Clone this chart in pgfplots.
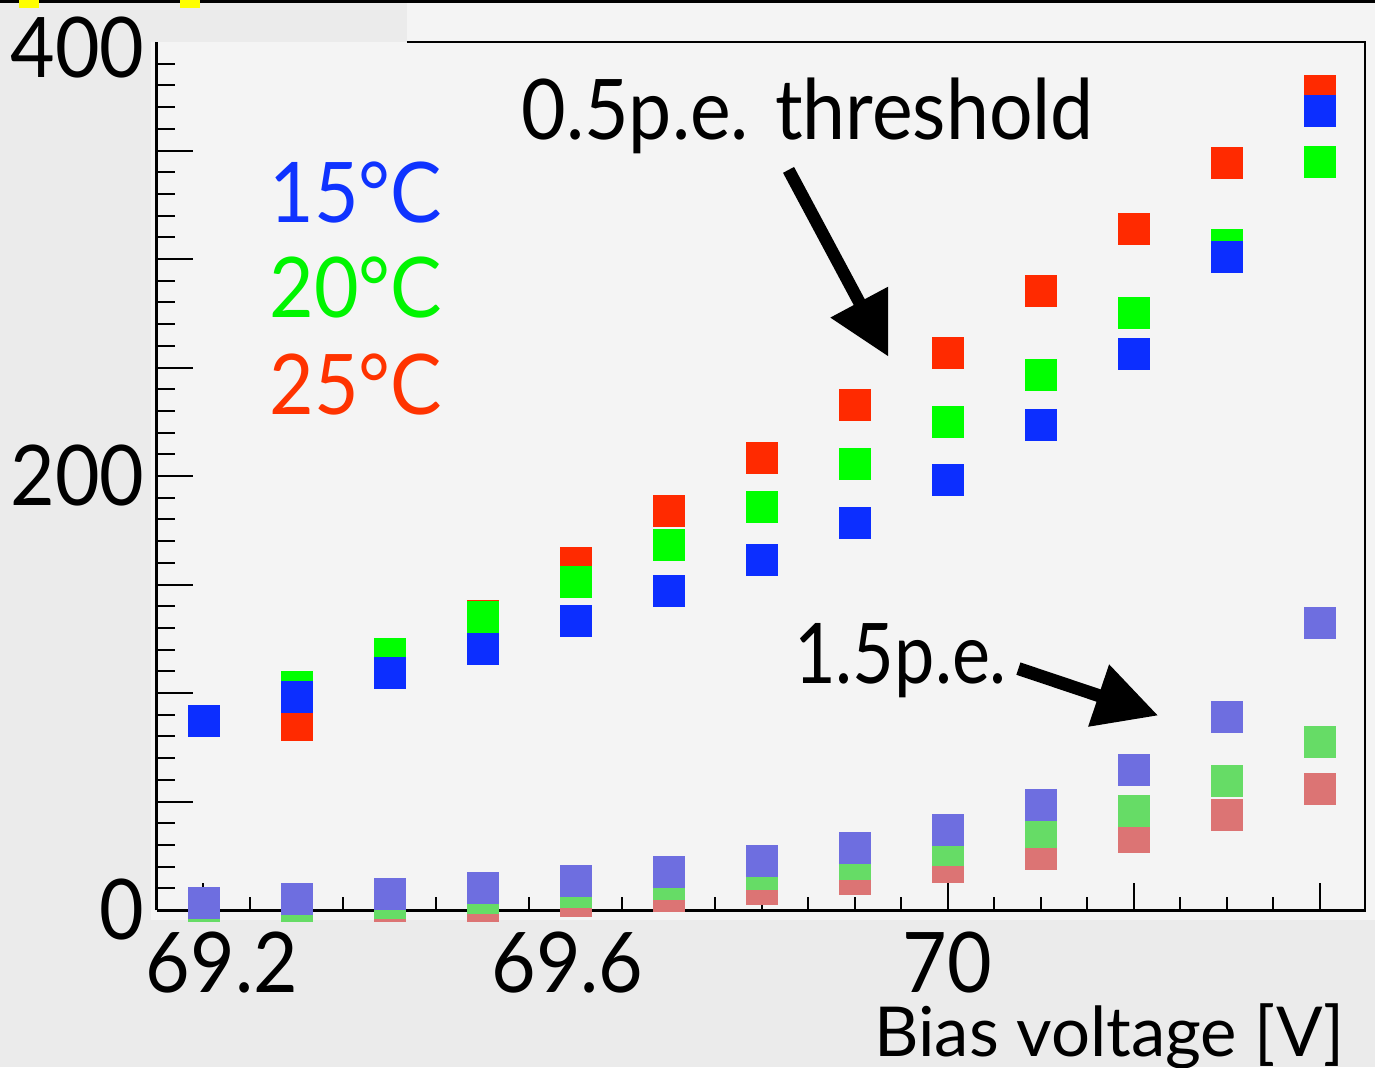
\documentclass[border=0pt]{standalone}
\usepackage{fontspec}
\setmainfont[FakeStretch=0.92]{Lato}
\newfontfamily\biasfont{Lato}
\newfontfamily\narrowf[FakeStretch=0.86]{Lato}
\usepackage{pgfplots}
\pgfplotsset{compat=1.18}
\usetikzlibrary{arrows.meta}
\definecolor{bgout}{HTML}{EBEBEB}
\definecolor{bgin}{HTML}{F4F4F4}
\definecolor{bA}{HTML}{0C2EFF}
\definecolor{gA}{HTML}{00FF00}
\definecolor{rA}{HTML}{FF2A00}
\definecolor{bB}{HTML}{6E6EE0}
\definecolor{gB}{HTML}{66DC66}
\definecolor{rB}{HTML}{DC7474}
\definecolor{txtB}{HTML}{0F33FF}
\definecolor{txtG}{HTML}{00F500}
\definecolor{txtR}{HTML}{FF3300}
\definecolor{yel}{HTML}{FFFF00}
\newcommand\bigf{\fontsize{23.8pt}{28pt}\selectfont}
\begin{document}
\begin{tikzpicture}
\begin{scope}[x=0.01cm,y=-0.01cm]
\fill[bgin] (0,0) rectangle (1376,1068);
\fill[bgout] (0,0) rectangle (151,1068);
\fill[bgout] (0,921) rectangle (1376,1068);
\fill[bgout] (0,0) rectangle (407,42);
\end{scope}

% x ticks
\begin{axis}[at={(1.57cm,-9.10cm)}, anchor=south west,
  width=12.09cm, height=8.68cm, scale only axis,
  xmin=69.15, xmax=70.45, ymin=0, ymax=400,
  axis x line*=bottom, axis y line*=left,
  axis line style={line width=0.03cm, black},
  xtick={69.2,69.4,69.6,69.8,70.0,70.2,70.4},
  xticklabels={{\hspace*{0.37cm}69.2},,{69.6\hspace*{0.16cm}},,70,,},
  minor xtick={69.15,69.25,69.3,69.35,69.45,69.5,69.55,69.65,69.7,69.75,69.85,69.9,69.95,70.05,70.1,70.15,70.25,70.3,70.35},
  ytick=\empty,
  tick align=inside, major tick length=0.27cm, minor tick length=0.13cm,
  tick style={line width=0.02cm, black},
  xticklabel style={font=\bigf, inner sep=0pt, anchor=north, yshift=-0.21cm},
  /pgf/number format/assume math mode=true]
\end{axis}

% y ticks
\begin{axis}[at={(1.57cm,-9.10cm)}, anchor=south west,
  width=12.09cm, height=8.68cm, scale only axis,
  xmin=69.15, xmax=70.45, ymin=0, ymax=400,
  axis x line*=bottom, axis y line*=left,
  axis line style={line width=0.03cm, black},
  xtick=\empty,
  ytick={0,50,100,150,200,250,300,350},
  yticklabels={0,,,,200,,,},
  minor ytick={10,20,30,40,60,70,80,90,110,120,130,140,160,170,180,190,210,220,230,240,260,270,280,290,310,320,330,340,360,370,380,390},
  extra y ticks={400},
  extra y tick labels={{\raisebox{-0.05cm}[\height][0pt]{400}}},
  extra y tick style={tick style={draw=none}},
  tick align=inside, major tick length=0.36cm, minor tick length=0.18cm,
  tick style={line width=0.02cm, black},
  yticklabel style={font=\bigf, inner sep=0pt, anchor=east, xshift=-0.12cm},
  /pgf/number format/assume math mode=true]
\end{axis}

% data (drawn over axes, as in the original)
\begin{axis}[at={(1.51cm,-9.21cm)}, anchor=south west,
  width=12.15cm, height=8.79cm, scale only axis,
  xmin=69.14355, xmax=70.45, ymin=-5.07, ymax=400,
  hide axis, clip=true, clip marker paths=true, mark size=0.155cm]
\addplot[only marks, mark=square*, mark options={fill=rB, draw=rB, line width=0.1pt}] coordinates {
(69.2,-3) (69.3,-2) (69.4,-2) (69.5,0.5) (69.6,4.3) (69.7,6.5) (69.8,10) (69.9,14.3) (70.0,19.8) (70.1,26) (70.2,33.6) (70.3,43.8) (70.4,56)};
\addplot[only marks, mark=square*, mark options={fill=gB, draw=gB, line width=0.1pt}] coordinates {
(69.2,-1.5) (69.3,-1) (69.4,3.5) (69.5,5.5) (69.6,8.6) (69.7,12) (69.8,16.6) (69.9,21.5) (70.0,28) (70.1,35.9) (70.2,45.9) (70.3,59.4) (70.4,77.6)};
\addplot[only marks, mark=square*, mark options={fill=bB, draw=bB, line width=0.1pt}] coordinates {
(69.2,3.5) (69.3,5.4) (69.4,7.4) (69.5,10.2) (69.6,13.6) (69.7,17.6) (69.8,22.6) (69.9,28.7) (70.0,37) (70.1,48.4) (70.2,64.6) (70.3,89.2) (70.4,132.3)};
\addplot[only marks, mark=square*, mark options={fill=rA, draw=rA, line width=0.1pt}] coordinates {
(69.3,85.2) (69.4,113) (69.5,135.5) (69.6,159.9) (69.7,183.9) (69.8,208.4) (69.9,232.7) (70.0,257) (70.1,285.5) (70.2,314.1) (70.3,344.5) (70.4,377.5)};
\addplot[only marks, mark=square*, mark options={fill=gA, draw=gA, line width=0.1pt}] coordinates {
(69.3,102.8) (69.4,118.3) (69.5,135) (69.6,151.3) (69.7,168.2) (69.8,186) (69.9,205.7) (70.0,225) (70.1,246.9) (70.2,275.1) (70.3,306.5) (70.4,345)};
\addplot[only marks, mark=square*, mark options={fill=bA, draw=bA, line width=0.1pt}] coordinates {
(69.2,87.1) (69.3,98.2) (69.4,109.2) (69.5,120.6) (69.6,133.3) (69.7,147.3) (69.8,161.4) (69.9,178.3) (70.0,198.3) (70.1,223.8) (70.2,256.2) (70.3,300.9) (70.4,368.4)};
\end{axis}

\begin{scope}[x=0.01cm,y=-0.01cm]
\draw[line width=0.022cm, black] (407,42) -- (1366,42) -- (1366,910);
\fill[black] (0,0) rectangle (1376,3);
\fill[yel] (19,0) rectangle (39,8);
\fill[yel] (180,0) rectangle (200,8);
\node[anchor=base west, inner sep=0pt, font=\bigf] at (521,140) {0.5p.e. threshold};
\node[anchor=base west, inner sep=0pt, font={\narrowf\fontsize{23.8pt}{28pt}\selectfont}] at (794,684) {1.5p.e.};
\node[anchor=base east, inner sep=0pt, font=\bigf, text=txtB] at (443,223) {15°C};
\node[anchor=base east, inner sep=0pt, font=\bigf, text=txtG] at (443,318) {20°C};
\node[anchor=base east, inner sep=0pt, font=\bigf, text=txtR] at (443,415) {25°C};
\node[anchor=base east, inner sep=0pt, font={\biasfont\fontsize{19.6pt}{24pt}\selectfont}] at (1346,1057) {Bias voltage [V]};
\draw[line width=0.125cm, -{Triangle[length=0.62cm,width=0.62cm]}] (789,170) -- (889,357);
\draw[line width=0.13cm, -{Triangle[length=0.63cm,width=0.62cm]}] (1019,669) -- (1159,716);
\end{scope}
\pgfresetboundingbox
\path[use as bounding box] (0,0) rectangle (13.76cm,-10.68cm);
\end{tikzpicture}
\end{document}
